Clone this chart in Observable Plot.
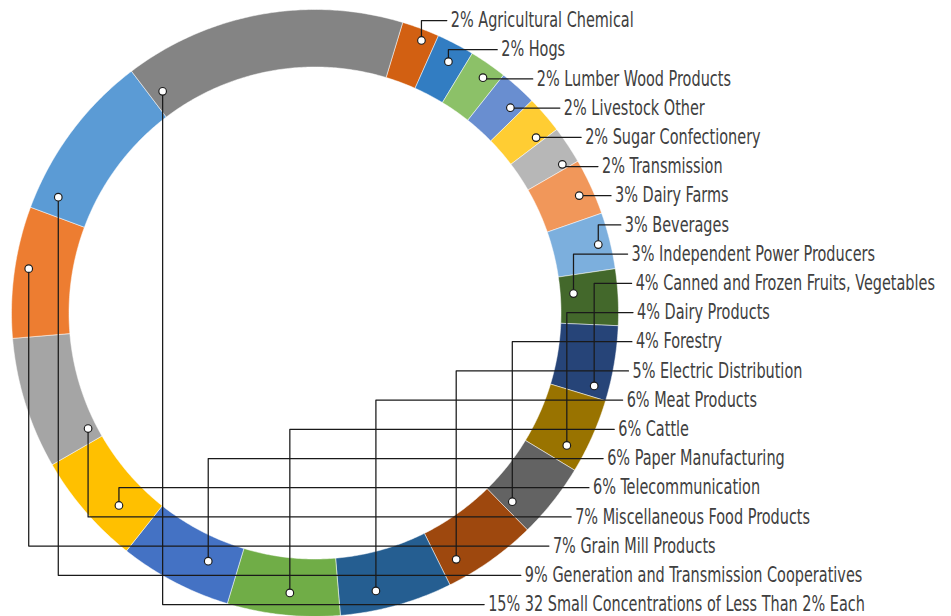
<!DOCTYPE html>
<html>
<head>
<meta charset="utf-8">
<script src="https://cdn.jsdelivr.net/npm/d3@7"></script>
<script src="https://cdn.jsdelivr.net/npm/@observablehq/plot@0.6"></script>
<style>
  html, body { margin: 0; padding: 0; background: #fff; }
  #chart svg { display: block; }
</style>
</head>
<body>
<div id="chart"></div>
<script>
// ---- data ----
const categories = [
  "Agricultural Chemical", "Hogs", "Lumber Wood Products", "Livestock Other",
  "Sugar Confectionery", "Transmission", "Dairy Farms", "Beverages",
  "Independent Power Producers", "Canned and Frozen Fruits, Vegetables",
  "Dairy Products", "Forestry", "Electric Distribution", "Meat Products",
  "Cattle", "Paper Manufacturing", "Telecommunication",
  "Miscellaneous Food Products", "Grain Mill Products",
  "Generation and Transmission Cooperatives",
  "32 Small Concentrations of Less Than 2% Each"
];
const shares = [2, 2, 2, 2, 2, 2, 3, 3, 3, 4, 4, 4, 5, 6, 6, 6, 6, 7, 7, 9, 15];

// ---- styles ----
const palette = [
  "#D26012", "#327DC2", "#8CC168", "#698ED0", "#FFCD33", "#B7B7B7",
  "#F1975A", "#7CAFDD", "#43682B", "#264478", "#997300", "#636363",
  "#9E480E", "#255E91", "#70AD47", "#4472C4", "#FFC000", "#A5A5A5",
  "#ED7D31", "#5B9BD5", "#848484"
];

// ---- leader anchor layout: fraction along each slice, fraction across the ring ----
const anchorAlong = [0.63, 0.55, 0.60, 0.72, 0.83, 0.86, 0.56, 0.52, 0.38, 0.85, 0.76,
                     0.87, 0.81, 0.65, 0.46, 0.30, 0.33, 0.12, 0.54, 0.12, 0.05];
const anchorDepth = [0.81, 0.67, 0.75, 0.65, 0.63, 0.74, 0.75, 0.79, 0.23, 0.74, 0.67,
                     0.47, 0.66, 0.67, 0.61, 0.42, 0.50, 0.15, 0.76, 0.62, 0.40];

// ---- geometry ----
const W = 951, H = 616;
const cx = 314.5, cy = 312.5, rOuter = 303.5, rInner = 246, startDeg = 16.8;
const labelTop = 20, labelStep = 29.2;
const total = d3.sum(shares);
const rad = a => a * Math.PI / 180;
const polar = (a, r) => ({x: cx + r * Math.sin(rad(a)), y: cy - r * Math.cos(rad(a))});

const ringPts = [];
const anchors = [];
const leaderPts = [];
const labels = [];
let cum = 0;
categories.forEach((name, i) => {
  const a0 = startDeg + cum / total * 360;
  const a1 = a0 + shares[i] / total * 360;
  cum += shares[i];
  const n = Math.max(2, Math.ceil((a1 - a0) / 0.5));
  const poly = [];
  for (let k = 0; k <= n; k++) poly.push(polar(a0 + (a1 - a0) * k / n, rOuter));
  for (let k = n; k >= 0; k--) poly.push(polar(a0 + (a1 - a0) * k / n, rInner));
  poly.push(poly[0]);
  poly.forEach(p => ringPts.push({name, color: palette[i], x: p.x, y: p.y}));

  // anchor dot inside the slice
  const aa = a0 + (a1 - a0) * anchorAlong[i];
  const ra = rInner + (rOuter - rInner) * anchorDepth[i];
  const dot = polar(aa, ra);
  anchors.push({name, ...dot});

  // label position along an elliptical path to the right of the ring
  const ly = labelTop + i * labelStep;
  const dy = ly - cy;
  const ry = dy < 0 ? 322 : 345;
  const lx = cx + 320 * Math.sqrt(Math.max(0, 1 - (dy / ry) ** 2));
  labels.push({text: `${shares[i]}% ${name}`, x: lx + 2, y: ly});

  leaderPts.push({name, x: dot.x, y: dot.y});
  leaderPts.push({name, x: dot.x, y: ly});
  leaderPts.push({name, x: lx - 2, y: ly});
});

const chart = Plot.plot({
  width: W,
  height: H,
  margin: 0,
  x: {domain: [0, W], range: [0, W], axis: null},
  y: {domain: [0, H], range: [0, H], axis: null},
  color: {type: "identity"},
  style: {background: "white", overflow: "visible"},
  marks: [
    Plot.line(ringPts, {x: "x", y: "y", z: "name", fill: "color", stroke: "white", strokeWidth: 0.5, curve: "linear"}),
    Plot.line(leaderPts, {x: "x", y: "y", z: "name", stroke: "#1a1a1a", strokeWidth: 1.25, curve: "linear"}),
    Plot.dot(anchors, {x: "x", y: "y", r: 3.8, fill: "white", stroke: "#1a1a1a", strokeWidth: 1.15}),
    Plot.text(labels, {
      x: "x", y: "y", text: "text", textAnchor: "start", lineAnchor: "middle",
      fontSize: 21, fill: "#404040",
      fontFamily: "'Liberation Sans Narrow', 'Arial Narrow', 'DejaVu Sans Condensed', sans-serif"
    })
  ]
});
document.getElementById("chart").appendChild(chart);

// condense the label glyphs horizontally so the first label spans ~183px like the reference
const texts = Array.from(chart.querySelectorAll("text"));
const first = texts.find(t => t.textContent.startsWith("2% Agricultural"));
if (first) {
  const len = first.getComputedTextLength();
  const k = len > 0 ? Math.min(1, 183 / len) : 1;
  texts.forEach(t => {
    const tr = t.getAttribute("transform");
    if (tr && /translate/.test(tr)) t.setAttribute("transform", `${tr} scale(${k},1)`);
  });
}
</script>
</body>
</html>
